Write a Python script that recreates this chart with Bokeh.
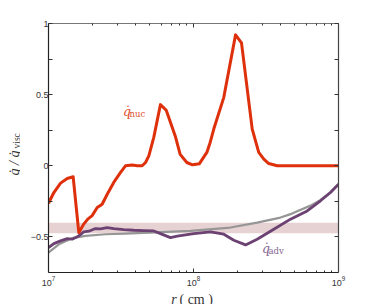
import numpy as np
from bokeh.plotting import figure
from bokeh.layouts import row, column
from bokeh.models import (LogAxis, LinearAxis, FixedTicker, Label, BoxAnnotation,
                          Range1d)
from bokeh.core.properties import value
from bokeh.embed import file_html
from bokeh.resources import INLINE

# ---- data (r in cm, values in units of q_visc) ----
r_nuc = [1.0e7, 1.089e7, 1.211e7, 1.346e7, 1.479e7, 1.618e7, 1.750e7, 1.866e7,
         2.000e7, 2.168e7, 2.344e7, 2.541e7, 2.818e7, 3.141e7, 3.396e7, 3.776e7,
         4.093e7, 4.426e7, 4.667e7, 4.920e7, 5.321e7, 5.916e7, 6.486e7, 7.482e7,
         8.091e7, 8.995e7, 9.840e7, 1.099e8, 1.236e8, 1.303e8, 1.380e8, 1.618e8,
         1.950e8, 2.143e8, 2.541e8, 2.818e8, 3.055e8, 3.304e8, 3.776e8, 1.0e9]
q_nuc = [-0.263, -0.188, -0.122, -0.089, -0.077, -0.47, -0.41, -0.375,
         -0.35, -0.293, -0.27, -0.2, -0.117, -0.047, 0.0, 0.005,
         0.0, 0.0, 0.023, 0.07, 0.2, 0.43, 0.39, 0.21,
         0.08, 0.023, 0.007, 0.015, 0.094, 0.164, 0.258, 0.481,
         0.92, 0.864, 0.258, 0.094, 0.047, 0.016, 0.0, 0.0]

r_adv = [1.0e7, 1.089e7, 1.211e7, 1.346e7, 1.456e7, 1.618e7, 1.750e7, 1.897e7,
         2.109e7, 2.286e7, 2.541e7, 2.818e7, 3.304e7, 3.873e7, 4.539e7, 5.321e7,
         5.916e7, 6.934e7, 7.727e7, 1.005e8, 1.309e8, 1.618e8, 1.897e8, 2.286e8,
         2.748e8, 3.581e8, 4.667e8, 6.081e8, 7.516e8, 8.810e8, 1.0e9]
q_adv = [-0.575, -0.547, -0.528, -0.512, -0.516, -0.493, -0.465, -0.46,
         -0.441, -0.444, -0.434, -0.441, -0.449, -0.453, -0.455, -0.458,
         -0.477, -0.505, -0.495, -0.477, -0.465, -0.481, -0.523, -0.556,
         -0.516, -0.446, -0.375, -0.317, -0.246, -0.188, -0.129]

r_ref = [1.0e7, 1.178e7, 1.456e7, 1.799e7, 2.472e7, 3.396e7, 9.528e7, 1.799e8,
         2.748e8, 3.981e8, 4.667e8, 5.188e8, 6.412e8, 7.516e8, 8.810e8, 1.0e9]
q_ref = [-0.61, -0.552, -0.509, -0.493, -0.481, -0.477, -0.458, -0.434,
         -0.399, -0.364, -0.34, -0.32, -0.28, -0.24, -0.185, -0.13]

band_low, band_high = -0.475, -0.40

x_major = [1e7, 1e8, 1e9]
x_minor = [m * 10.0 ** e for e in (7, 8) for m in range(2, 10)]
y_ticks = [-0.5, -0.25, 0, 0.25, 0.5, 0.75, 1]
y_labels = {-0.5: "\u22120.5", -0.25: "", 0: "0", 0.25: "", 0.5: "0.5", 0.75: "", 1: "1"}

x_title = ["r", "( cm )"]
y_title = ["q\u0307 / q\u0307", "visc"]

RED = "#df300c"
PURPLE = "#6c4272"
GRAY = "#969696"
SERIF = "DejaVu Serif"
TSERIF = "Liberation Serif"

# ---- main figure ----
p = figure(width=352, height=289, x_axis_type="log",
           x_range=Range1d(1e7, 1e9), y_range=Range1d(-0.75, 1),
           output_backend="svg", toolbar_location=None,
           min_border_left=28, min_border_right=34,
           min_border_top=23, min_border_bottom=17)
p.background_fill_color = "white"
p.border_fill_color = "white"
p.border_fill_alpha = 0
p.grid.visible = False
p.outline_line_color = None

band = BoxAnnotation(bottom=band_low, top=band_high, fill_color="#e7d2d3",
                     fill_alpha=1, line_color=None, level="underlay")
p.add_layout(band)

p.line(r_ref, q_ref, line_color=GRAY, line_width=2.2, line_join="round")
p.line(r_adv, q_adv, line_color=PURPLE, line_width=2.8, line_join="round")
p.line(r_nuc, q_nuc, line_color=RED, line_width=3, line_join="round")

xt = FixedTicker(ticks=x_major, minor_ticks=x_minor)
yt = FixedTicker(ticks=y_ticks)


def style_axis(ax, labels=True):
    ax.axis_line_color = "#222222"
    ax.axis_line_width = 1.2
    ax.major_tick_in = 4
    ax.major_tick_out = 0
    ax.minor_tick_in = 2
    ax.minor_tick_out = 0
    ax.major_tick_line_color = "#333333"
    ax.minor_tick_line_color = "#333333"
    ax.major_label_text_font = "Liberation Sans"
    ax.major_label_text_font_size = "9px"
    ax.major_label_text_color = "#333333"
    ax.major_label_standoff = 0
    if not labels:
        ax.major_label_text_font_size = "0px"
        ax.major_label_text_alpha = 0


xa = p.xaxis[0]
xa.ticker = xt
style_axis(xa)
xa.major_label_standoff = 3

ya = p.yaxis[0]
ya.ticker = yt
ya.major_label_overrides = y_labels
style_axis(ya)

top = LogAxis(ticker=xt)
style_axis(top, labels=False)
top.major_label_overrides = {1e7: "", 1e8: "", 1e9: ""}
top.axis_line_color = "#777777"
p.add_layout(top, "above")

right = LinearAxis(ticker=yt)
style_axis(right, labels=False)
right.major_label_overrides = {t: "" for t in y_ticks}
right.axis_line_color = "#444444"
p.add_layout(right, "right")

# curve labels
p.add_layout(Label(x=3.27e7, y=0.384, text="q\u0307", text_font=SERIF,
                   text_font_style="italic", text_font_size="12.5px",
                   text_color="#e0502e", text_baseline="alphabetic"))
p.add_layout(Label(x=3.62e7, y=0.365, text="nuc", text_font=SERIF,
                   text_font_size="8.5px", text_color="#e0502e",
                   text_baseline="alphabetic"))
p.add_layout(Label(x=2.97e8, y=-0.583, text="q\u0307", text_font=SERIF,
                   text_font_style="italic", text_font_size="12.5px",
                   text_color="#86648f", text_baseline="alphabetic"))
p.add_layout(Label(x=3.29e8, y=-0.601, text="adv", text_font=SERIF,
                   text_font_size="8.5px", text_color="#86648f",
                   text_baseline="alphabetic"))


def blank_fig(w, h):
    f = figure(width=w, height=h, x_range=Range1d(0, w), y_range=Range1d(0, h),
               output_backend="svg", toolbar_location=None,
               x_axis_location=None, y_axis_location=None,
               min_border=0, min_border_left=0, min_border_right=0,
               min_border_top=0, min_border_bottom=0)
    f.grid.visible = False
    f.outline_line_color = None
    f.background_fill_color = "white"
    f.border_fill_color = "white"
    return f


# ---- x title strip (below main) ----
fx = blank_fig(352, 15)
fx.text(x=[149], y=[5], text=[x_title[0]], text_font=value(TSERIF),
        text_font_style="italic", text_font_size="14px", text_color="#333333",
        text_baseline="alphabetic", text_align="left")
fx.text(x=[159], y=[5], text=[x_title[1]], text_font=value(TSERIF),
        text_font_size="14px", text_color="#333333",
        text_baseline="alphabetic", text_align="left")

# ---- y title strip (left) ----
fy = blank_fig(20, 304)
fy.text(x=[13.5], y=[129], text=[y_title[0]], text_font=value(TSERIF),
        text_font_style="italic", text_font_size="14px", text_color="#333333",
        text_baseline="alphabetic", text_align="left", angle=np.pi / 2)
fy.text(x=[16], y=[156], text=[y_title[1]], text_font=value(TSERIF),
        text_font_size="9.5px", text_color="#333333",
        text_baseline="alphabetic", text_align="left", angle=np.pi / 2)

layout = row(fy, column(p, fx, spacing=0), spacing=0)

open("out.html", "w").write(file_html(layout, INLINE))
